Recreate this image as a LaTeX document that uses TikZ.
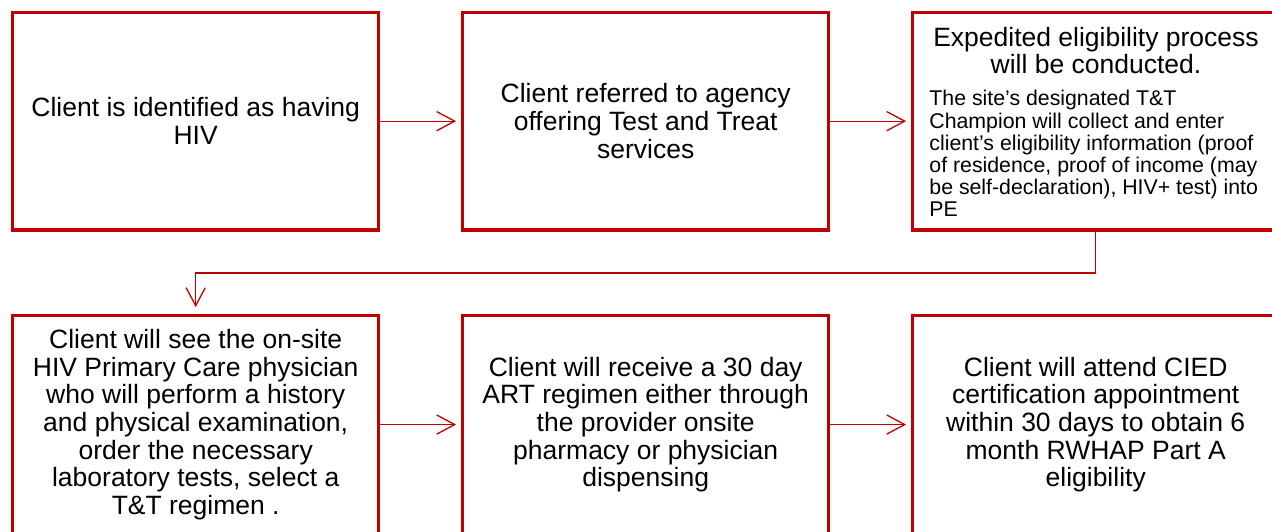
\documentclass[tikz,border=0pt]{standalone}
\usepackage{fontspec}
\setmainfont{Liberation Sans}
\usetikzlibrary{arrows.meta}
\definecolor{boxred}{HTML}{C00000}
\tikzset{
  flowbox/.style={draw=boxred, line width=1.65pt, rectangle, minimum width=183pt, minimum height=108.85pt, inner sep=0pt, align=center, font=\fontsize{13.25pt}{13.85pt}\selectfont, fill=white},
  conn/.style={draw=boxred, line width=0.65pt, -{Straight Barb[length=9pt,width=9.6pt]}, shorten >=2.5pt},
  headtext/.style={inner sep=0pt, align=center, font=\fontsize{13.25pt}{13.85pt}\selectfont},
  bodytext/.style={inner sep=0pt, align=left, font=\fontsize{10.65pt}{11.1pt}\selectfont}
}
\begin{document}
\begin{tikzpicture}[x=0.5pt,y=-0.5pt]
\clip (0,0) rectangle (1272,531);
\fill[white] (0,0) rectangle (1272,531);
\node[flowbox] (b1) at (195.7,121.15) {Client is identified as having\\HIV};
\node[flowbox] (b2) at (645.7,121.15) {Client referred to agency\\offering Test and Treat\\services};
\node[flowbox] (b3) at (1095.7,121.15) {};
\node[headtext, anchor=north] (b3h) at (1096,26.5) {Expedited eligibility process\\will be conducted.};
\node[bodytext, anchor=north west] (b3b) at (929,90) {The site’s designated T\&T\\Champion will collect and enter\\client’s eligibility information (proof\\of residence, proof of income (may\\be self-declaration), HIV+ test) into\\PE};
\node[flowbox] (b4) at (195.7,424.55) {Client will see the on-site\\HIV Primary Care physician\\who will perform a history\\and physical examination,\\order the necessary\\laboratory tests, select a\\T\&T regimen .};
\node[flowbox] (b5) at (645.7,424.55) {Client will receive a 30 day\\ART regimen either through\\the provider onsite\\pharmacy or physician\\dispensing};
\node[flowbox] (b6) at (1095.7,424.55) {Client will attend CIED\\certification appointment\\within 30 days to obtain 6\\month RWHAP Part A\\eligibility};
\coordinate (turn) at (1095.7,273);
\draw[conn] (b1.east) -- (b2.west);
\draw[conn] (b2.east) -- (b3.west);
\draw[conn, shorten >=3.5pt] (b3.south) -- (turn) -| (b4.north);
\draw[conn] (b4.east) -- (b5.west);
\draw[conn] (b5.east) -- (b6.west);
\end{tikzpicture}
\end{document}
